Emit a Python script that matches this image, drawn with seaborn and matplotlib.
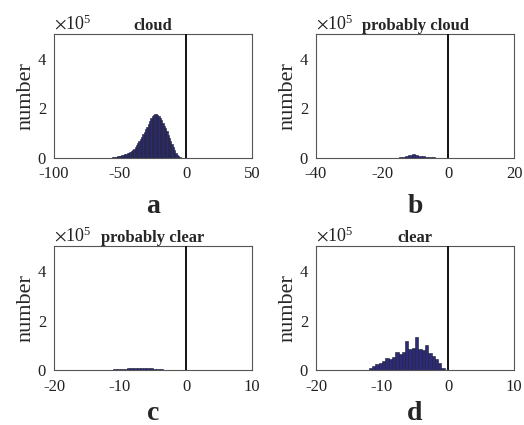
import numpy as np
import pandas as pd
import seaborn as sns
import matplotlib
matplotlib.use("Agg")
import matplotlib.pyplot as plt
from matplotlib.ticker import ScalarFormatter

# ---------------- data (counts in units of 1e5) ----------------
# cloud: 1-wide bins from -75 to 3
cloud_start, cloud_width = -75.0, 1.0
cloud_counts = [
    0, 0, 0, 0, 0, 0, 0, 0, 0, 0, 0, 0, 0, 0, 0,
    0.005, 0.008, 0.012, 0.018, 0.025, 0.035, 0.045, 0.055, 0.070, 0.085,
    0.100, 0.115, 0.130, 0.150, 0.170, 0.190, 0.220, 0.250, 0.280, 0.320,
    0.370, 0.440, 0.520, 0.600, 0.680, 0.760, 0.850, 0.960, 1.060, 1.160,
    1.270, 1.380, 1.500, 1.600, 1.680, 1.740, 1.770, 1.760, 1.730, 1.680,
    1.610, 1.520, 1.420, 1.310, 1.200, 1.080, 0.950, 0.820, 0.680, 0.550,
    0.430, 0.310, 0.210, 0.130, 0.070, 0.040, 0.020, 0.010, 0.004, 0.001,
    0, 0, 0,
]

# probably cloud: 1-wide bins from -37 to 0
pcloud_start, pcloud_width = -37.0, 1.0
pcloud_counts = [
    0, 0, 0, 0, 0, 0, 0, 0, 0, 0, 0, 0, 0, 0, 0, 0, 0, 0, 0, 0,
    0.01, 0.02, 0.04, 0.06, 0.09, 0.13, 0.16, 0.12, 0.09, 0.07,
    0.05, 0.04, 0.03, 0.01, 0, 0, 0,
]

# probably clear: 0.5-wide bins from -20 to 2
pclear_start, pclear_width = -20.0, 0.5
pclear_counts = [
    0, 0, 0, 0, 0, 0, 0, 0, 0, 0, 0, 0, 0, 0, 0, 0,
    0.01, 0.02, 0.03, 0.04, 0.05, 0.06, 0.07, 0.08, 0.09, 0.08,
    0.10, 0.08, 0.07, 0.07, 0.05, 0.04, 0.03, 0.02, 0.01, 0,
    0, 0, 0, 0, 0, 0, 0, 0,
]

# clear: 0.5-wide bins from -20 to 2
clear_start, clear_width = -20.0, 0.5
clear_counts = [
    0, 0, 0, 0, 0, 0, 0, 0, 0, 0, 0, 0, 0, 0, 0, 0,
    0.08, 0.17, 0.24, 0.30, 0.36, 0.50, 0.46, 0.53, 0.74, 0.66,
    0.74, 1.17, 0.84, 0.88, 1.34, 0.87, 0.82, 1.00, 0.70, 0.58,
    0.44, 0.28, 0.10, 0.02, 0, 0, 0, 0,
]

titles = ["cloud", "probably cloud", "probably clear", "clear"]
letters = ["a", "b", "c", "d"]
xlims = [(-100, 50), (-40, 20), (-20, 10), (-20, 10)]
xticks = [[-100, -50, 0, 50], [-40, -20, 0, 20], [-20, -10, 0, 10], [-20, -10, 0, 10]]
yticks = [0, 2e5, 4e5]
ymax = 5e5
scale = 1e5

series = [
    (cloud_start, cloud_width, cloud_counts),
    (pcloud_start, pcloud_width, pcloud_counts),
    (pclear_start, pclear_width, pclear_counts),
    (clear_start, clear_width, clear_counts),
]

# ---------------- style ----------------
sns.set_theme(style="white")
plt.rcParams["font.family"] = ["Liberation Serif", "DejaVu Serif"]
plt.rcParams["mathtext.fontset"] = "stix"
plt.rcParams["axes.unicode_minus"] = False
plt.rcParams["axes.edgecolor"] = "#555555"
plt.rcParams["axes.linewidth"] = 0.8

fig = plt.figure(figsize=(5.24, 4.25), dpi=100)
w, h = 0.378, 0.292
positions = [
    (0.103, 0.628, w, h),
    (0.603, 0.628, w, h),
    (0.103, 0.129, w, h),
    (0.603, 0.129, w, h),
]
letter_pads = [8, 8, 5, 5]

face = "#2d2a78"
edge = "#1a1a33"

for i, (start, width, counts) in enumerate(series):
    ax = fig.add_axes(positions[i])
    n = len(counts)
    lo, hi = start, start + width * n
    centers = start + width * (np.arange(n) + 0.5)
    df = pd.DataFrame({"value": centers, "count": np.array(counts) * scale})
    sns.histplot(data=df, x="value", weights="count", binwidth=width,
                 binrange=(lo, hi), ax=ax, color=face, edgecolor=edge,
                 linewidth=0.4, alpha=1.0)
    ax.axvline(0, color="#111111", linewidth=1.4, zorder=5)
    ax.set_xlim(*xlims[i])
    ax.set_ylim(0, ymax)
    ax.set_xticks(xticks[i])
    ax.set_yticks(yticks)
    fmt = ScalarFormatter(useMathText=True)
    fmt.set_powerlimits((0, 0))
    ax.yaxis.set_major_formatter(fmt)
    ax.yaxis.get_offset_text().set_fontsize(13)
    ax.yaxis.get_offset_text().set_color("#222222")
    ax.tick_params(axis="both", direction="in", length=0, labelsize=12,
                   colors="#222222")
    ax.tick_params(axis="x", pad=6)
    ax.tick_params(axis="y", pad=5)
    ax.set_ylabel("number", fontsize=16, labelpad=1)
    ax.set_xlabel(letters[i], fontsize=20, fontweight="bold",
                  labelpad=letter_pads[i])
    ax.set_title(titles[i], fontsize=12, fontweight="bold", pad=3)
    for s in ax.spines.values():
        s.set_visible(True)

fig.savefig("out.png", dpi=100)
